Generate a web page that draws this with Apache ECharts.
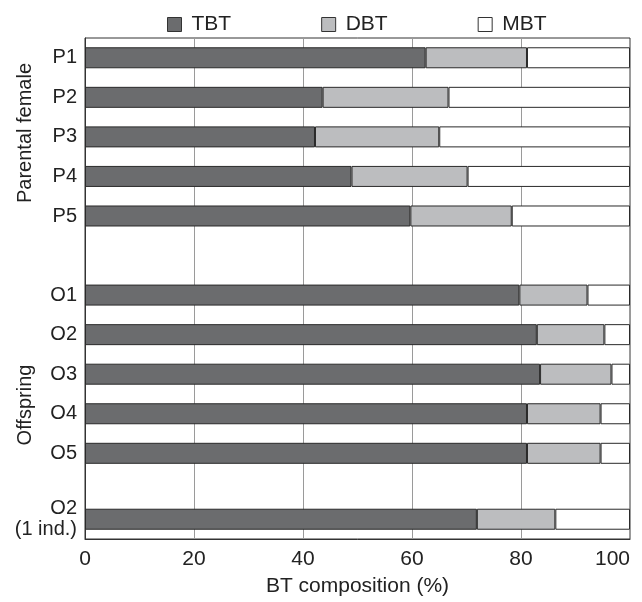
<!DOCTYPE html>
<html>
<head>
<meta charset="utf-8">
<script src="https://cdn.jsdelivr.net/npm/echarts@6/dist/echarts.min.js"></script>
<style>
  html, body { margin: 0; padding: 0; background: #fff; }
  #chart { width: 642px; height: 602px; }
</style>
</head>
<body>
<div id="chart"></div>
<script>
// 行标签（自上而下）
const rows = ['P1', 'P2', 'P3', 'P4', 'P5', 'O1', 'O2', 'O3', 'O4', 'O5', 'O2\n(1 ind.)'];
// 各组分百分比（%）
const tbt = [62.5, 43.6, 42.2, 48.9, 59.7, 79.7, 82.9, 83.5, 81.1, 81.1, 71.9];
const dbt = [18.6, 23.1, 22.8, 21.3, 18.6, 12.5, 12.4, 13.1, 13.5, 13.5, 14.4];
const mbt = [18.9, 33.3, 35.0, 29.8, 21.7, 7.8, 4.7, 3.4, 5.4, 5.4, 13.7];
const seriesNames = ['TBT', 'DBT', 'MBT'];
const xTicks = { min: 0, max: 100, step: 20 };

// 版式：纵轴按 1/3 行距切分，行落在下面这些槽位（中间留空表示分组间隔）
const SLOTS = 38;
const rowSlot = [1, 4, 7, 10, 13, 19, 22, 25, 28, 31, 36];

const cats = new Array(SLOTS).fill('');
rowSlot.forEach((s, i) => { cats[s] = rows[i]; });
const spread = arr => {
  const out = new Array(SLOTS).fill('-');
  rowSlot.forEach((s, i) => { out[s] = arr[i]; });
  return out;
};

const colors = ['#6b6c6e', '#bcbdbf', '#ffffff'];
const FONT = 'Liberation Sans, Arial, sans-serif';
const INK = '#222';

const chart = echarts.init(document.getElementById('chart'));
chart.setOption({
  backgroundColor: '#fff',
  animation: false,
  textStyle: { fontFamily: FONT },
  legend: {
    top: 9, left: 162,
    itemGap: 90, itemWidth: 14, itemHeight: 14,
    icon: 'rect',
    itemStyle: { borderColor: '#333', borderWidth: 1 },
    textStyle: { fontSize: 21, color: INK, fontFamily: FONT, padding: [0, 0, 0, 5] },
    data: seriesNames,
  },
  grid: { left: 85, right: 12, top: 38, bottom: 58, show: true, borderColor: '#333', borderWidth: 1 },
  xAxis: {
    type: 'value', min: xTicks.min, max: xTicks.max, interval: xTicks.step,
    name: 'BT composition (%)', nameLocation: 'middle', nameGap: 37,
    nameTextStyle: { fontSize: 21, color: INK, fontFamily: FONT },
    axisLine: { show: true, lineStyle: { color: '#333' } },
    axisTick: { show: false },
    axisLabel: { fontSize: 21, color: INK, margin: 10, fontFamily: FONT, alignMaxLabel: 'right' },
    splitLine: { show: true, lineStyle: { color: '#9a9a9a', width: 1 } },
  },
  yAxis: {
    type: 'category', data: cats, inverse: true,
    axisLine: { show: true, lineStyle: { color: '#333' } },
    axisTick: { show: false },
    axisLabel: { interval: 0, fontSize: 20, color: INK, margin: 8, lineHeight: 21, align: 'right', fontFamily: FONT },
    splitLine: { show: false },
  },
  series: [tbt, dbt, mbt].map((arr, i) => ({
    name: seriesNames[i],
    type: 'bar',
    stack: 'bt',
    barWidth: 21,
    data: spread(arr),
    itemStyle: { color: colors[i], borderColor: '#2a2a2a', borderWidth: 1 },
  })),
  color: colors,
  graphic: [
    { type: 'text', x: 25, y: 133, rotation: Math.PI / 2,
      style: { text: 'Parental female', fontSize: 20, fill: INK, fontFamily: FONT, align: 'center', verticalAlign: 'middle' } },
    { type: 'text', x: 25, y: 405, rotation: Math.PI / 2,
      style: { text: 'Offspring', fontSize: 20, fill: INK, fontFamily: FONT, align: 'center', verticalAlign: 'middle' } },
  ],
});
</script>
</body>
</html>
